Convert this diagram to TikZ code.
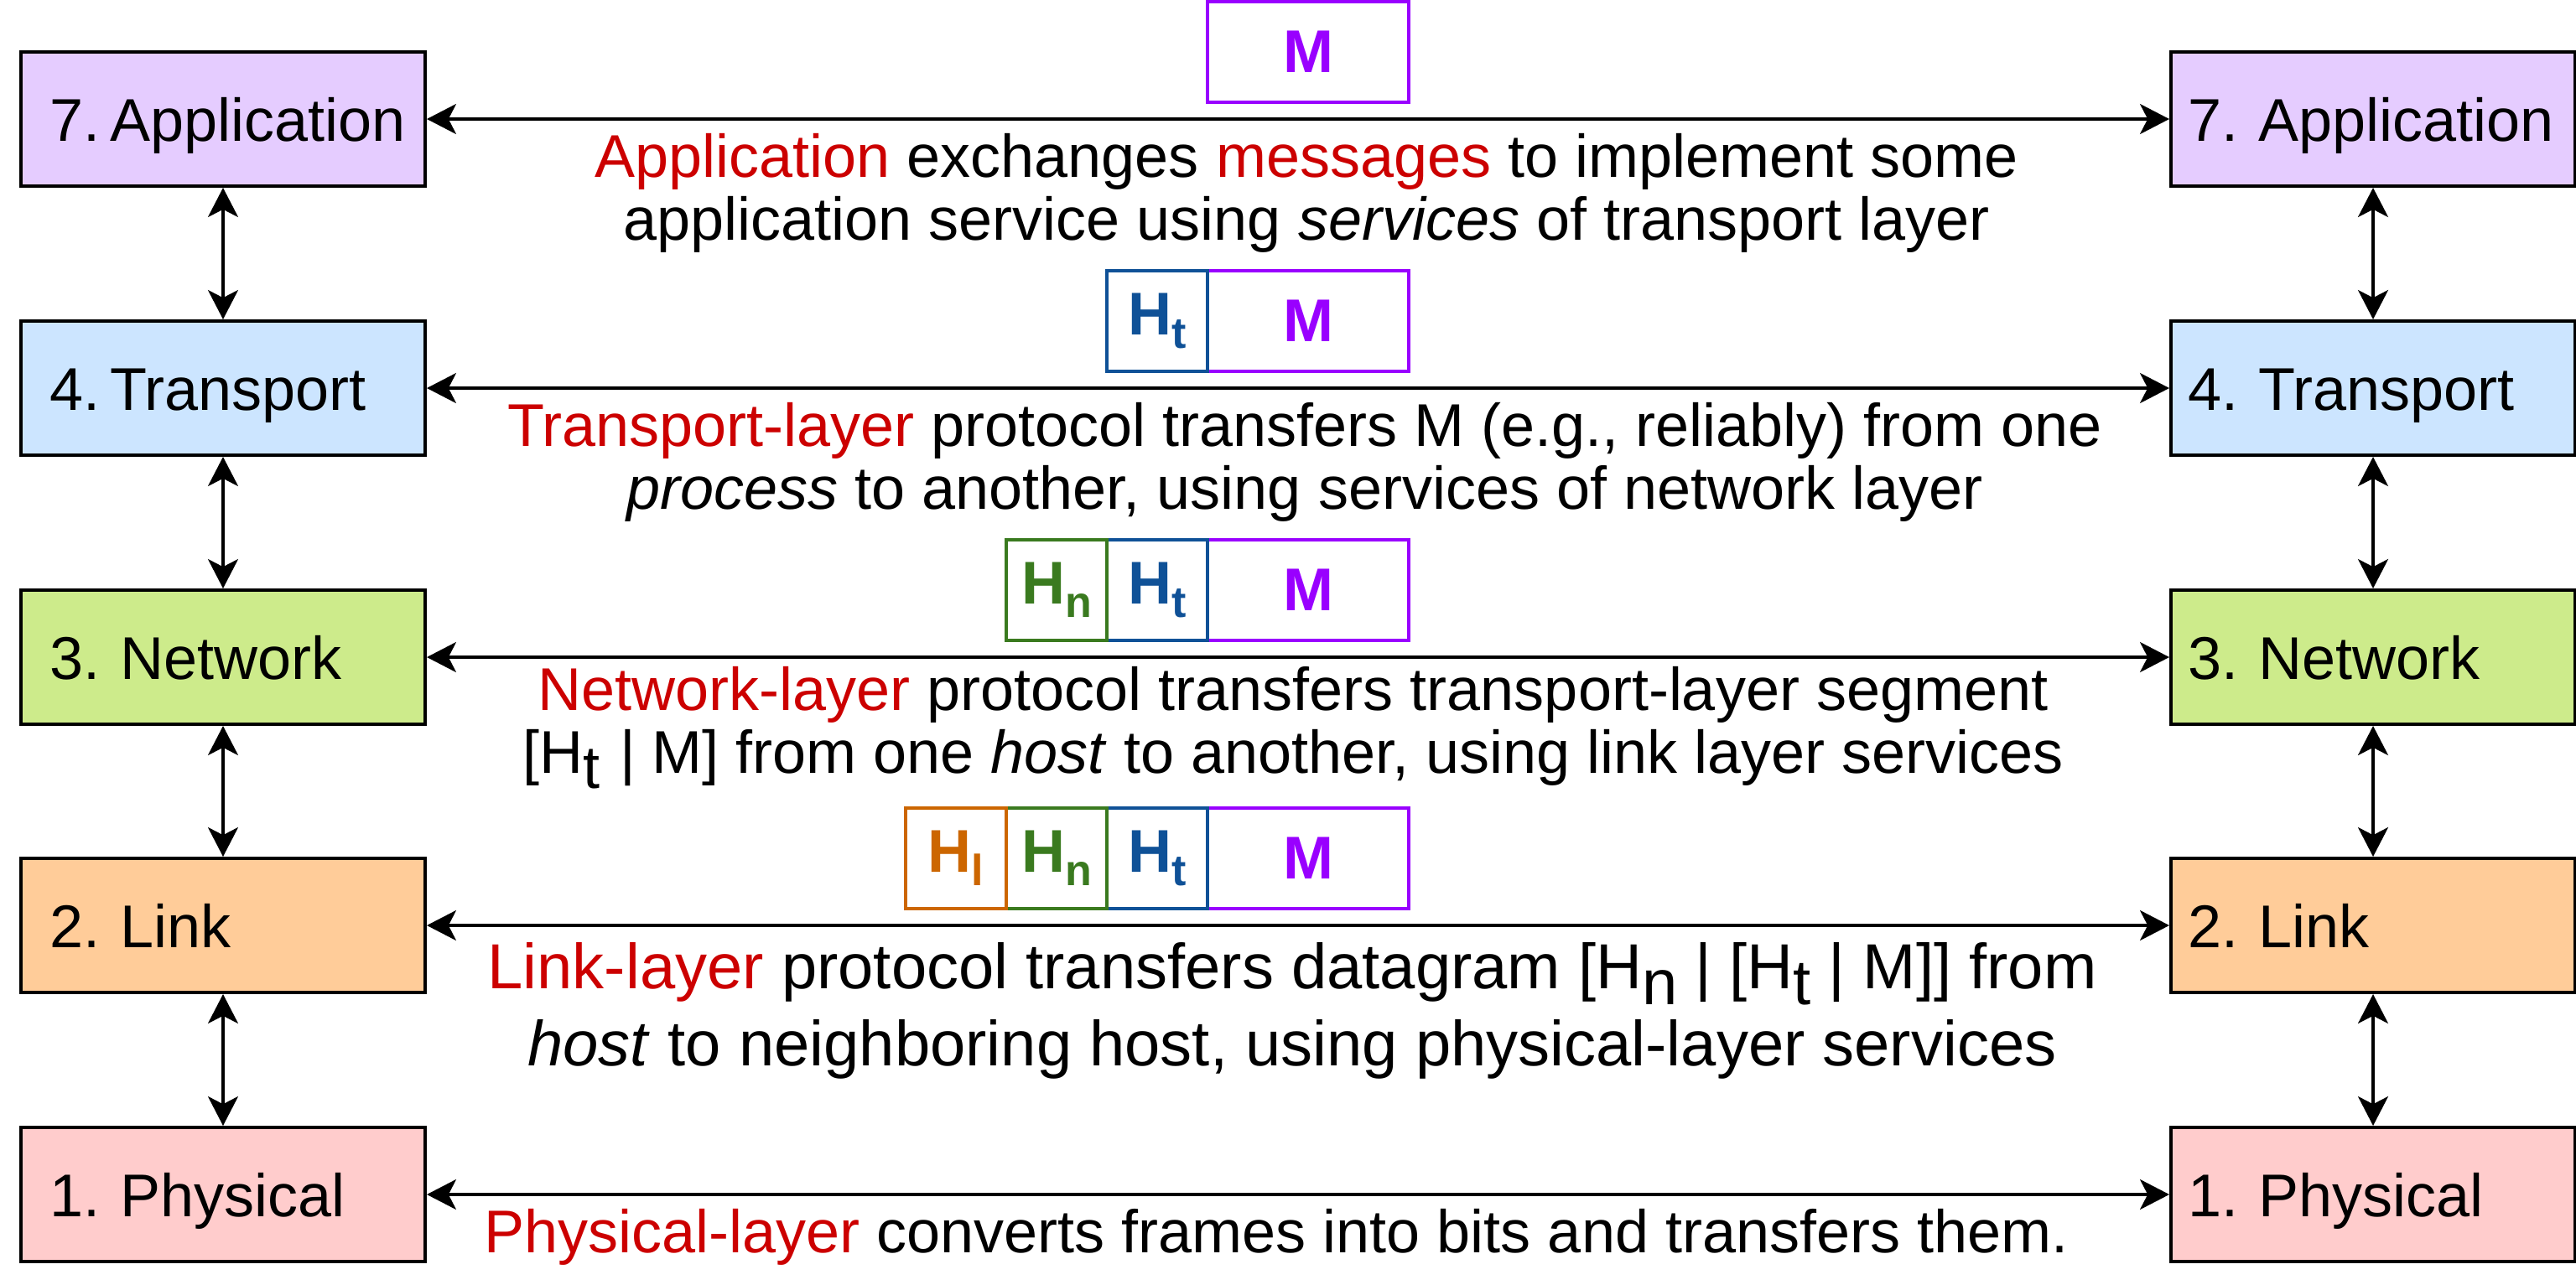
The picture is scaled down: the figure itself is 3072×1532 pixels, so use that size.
\documentclass[tikz,border=0pt]{standalone}
\usepackage{fontspec}
\setmainfont{Liberation Sans}
\usetikzlibrary{arrows.meta}
\frenchspacing
\definecolor{appc}{HTML}{E5CCFF}
\definecolor{trac}{HTML}{CCE5FF}
\definecolor{netc}{HTML}{CDEB8B}
\definecolor{linc}{HTML}{FFCC99}
\definecolor{phyc}{HTML}{FFCCCC}
\definecolor{redt}{HTML}{CC0000}
\definecolor{msgc}{HTML}{9900FF}
\definecolor{htc}{HTML}{0F5197}
\definecolor{hnc}{HTML}{3A7A1F}
\definecolor{hlc}{HTML}{CC6600}
\newcommand\rd[1]{\textcolor{redt}{#1}}
\newcommand\tsub[1]{\raisebox{-0.25em}{#1}}
\newcommand\psub[1]{\raisebox{-4pt}{\fontsize{13}{13}\selectfont #1}}
\begin{document}
\begin{tikzpicture}[x=0.25pt,y=-0.25pt,
  layer/.style={draw=black,line width=1pt,minimum width=120.5pt,minimum height=40pt,
    inner ysep=0pt,text height=13pt,text depth=0pt,align=left,
    font=\fontsize{18}{18}\selectfont\frenchspacing},
  layerL/.style={layer,inner xsep=8.5pt,text width=103.5pt},
  layerR/.style={layer,inner xsep=5pt,text width=110.5pt},
  pkt/.style={draw,line width=0.8pt,minimum height=30pt,inner sep=0pt,
    font=\bfseries\fontsize{18}{18}\selectfont},
  hdr/.style={pkt,minimum width=30pt},
  msg/.style={pkt,minimum width=60pt,draw=msgc,text=msgc},
  txt/.style={anchor=base,inner sep=0pt,font=\fontsize{18}{18}\selectfont\frenchspacing},
  txtb/.style={txt,font=\fontsize{19}{19}\selectfont\frenchspacing},
  conn/.style={{Stealth[length=8.75pt,width=9pt,inset=2.3pt]}-{Stealth[length=8.75pt,width=9pt,inset=2.3pt]},line width=0.8pt}]
\useasboundingbox[fill=white] (0,0) rectangle (3072,1532);

% left column
\node[layerL,fill=appc] (L7) at (266,142) {7.\,Application};
\node[layerL,fill=trac] (L4) at (266,463) {4.\,Transport};
\node[layerL,fill=netc] (L3) at (266,784) {3. Network};
\node[layerL,fill=linc] (L2) at (266,1104) {2. Link};
\node[layerL,fill=phyc] (L1) at (266,1425) {1. Physical};
% right column
\node[layerR,fill=appc] (R7) at (2830,142) {7. Application};
\node[layerR,fill=trac] (R4) at (2830,463) {4. Transport};
\node[layerR,fill=netc] (R3) at (2830,784) {3. Network};
\node[layerR,fill=linc] (R2) at (2830,1104) {2. Link};
\node[layerR,fill=phyc] (R1) at (2830,1425) {1. Physical};

% vertical connectors
\draw[conn] (L7) -- (L4);
\draw[conn] (L4) -- (L3);
\draw[conn] (L3) -- (L2);
\draw[conn] (L2) -- (L1);
\draw[conn] (R7) -- (R4);
\draw[conn] (R4) -- (R3);
\draw[conn] (R3) -- (R2);
\draw[conn] (R2) -- (R1);
% horizontal connectors
\draw[conn] (L7) -- (R7);
\draw[conn] (L4) -- (R4);
\draw[conn] (L3) -- (R3);
\draw[conn] (L2) -- (R2);
\draw[conn] (L1) -- (R1);

% packets
\node[msg] (m7) at (1560,62) {M};

\node[msg] (m4) at (1560,383) {M};
\node[hdr,draw=htc,text=htc] (t4) at (1380,383) {H\psub{t}};

\node[msg] (m3) at (1560,704) {M};
\node[hdr,draw=htc,text=htc] (t3) at (1380,704) {H\psub{t}};
\node[hdr,draw=hnc,text=hnc] (n3) at (1260,704) {H\psub{n}};

\node[msg] (m2) at (1560,1024) {M};
\node[hdr,draw=htc,text=htc] (t2) at (1380,1024) {H\psub{t}};
\node[hdr,draw=hnc,text=hnc] (n2) at (1260,1024) {H\psub{n}};
\node[hdr,draw=hlc,text=hlc] (l2) at (1140,1024) {H\psub{l}};

% descriptions
\node[txt] (d7a) at (1558,211) {\rd{Application} exchanges \rd{messages} to implement some};
\node[txt] (d7b) at (1558,286) {application service using \textit{services} of transport layer};

\node[txt] (d4a) at (1556,532) {\rd{Transport-layer} protocol transfers M (e.g., reliably) from one};
\node[txt] (d4b) at (1556,607) {\textit{process} to another, using services of network layer};

\node[txt] (d3a) at (1542,847) {\rd{Network-layer} protocol transfers transport-layer segment};
\node[txt] (d3b) at (1542,922) {[H\tsub{t}\hspace{1pt} | M] from one \textit{host} to another, using link layer services};

\node[txtb] (d2a) at (1541,1179) {\rd{Link-layer} protocol transfers datagram [H\tsub{n} | [H\tsub{t} | M]] from};
\node[txtb] (d2b) at (1541,1271) {\textit{host} to neighboring host, using physical-layer services};

\node[txt] (d1a) at (1522,1494) {\rd{Physical-layer} converts frames into bits and transfers them.};
\end{tikzpicture}
\end{document}
